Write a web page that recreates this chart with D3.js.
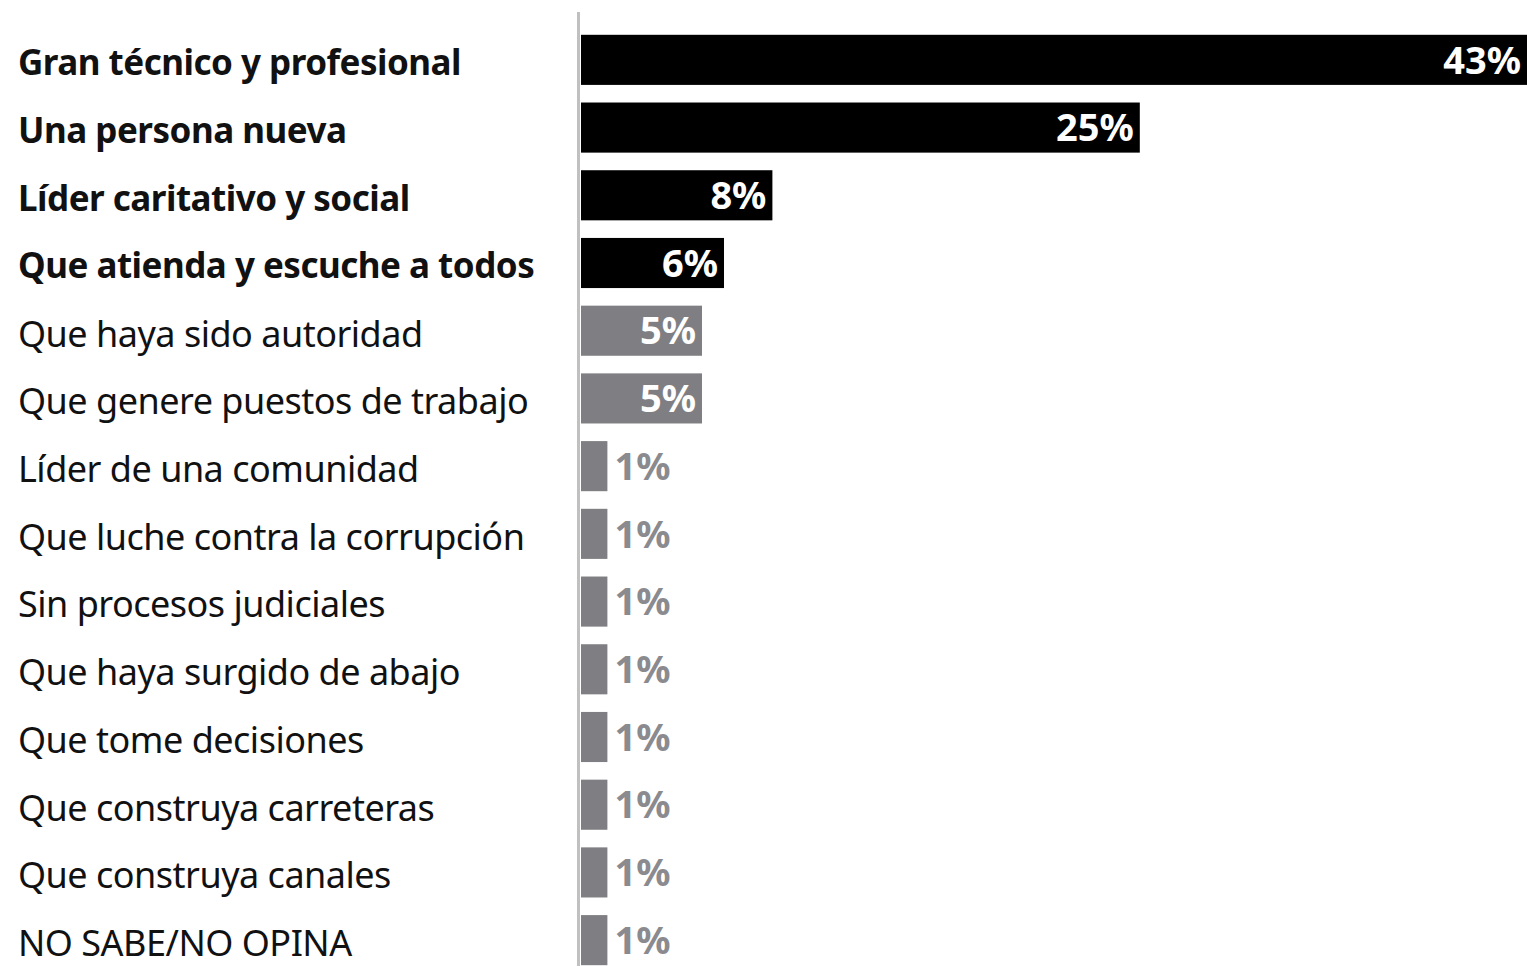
<!DOCTYPE html>
<html>
<head>
<meta charset="utf-8">
<script src="https://cdn.jsdelivr.net/npm/d3@7"></script>
<style>
  body { margin: 0; background: #ffffff; }
  text { font-family: 'Noto Sans', 'Open Sans', sans-serif; }
</style>
</head>
<body>
<script>
const categories = [
  'Gran técnico y profesional',
  'Una persona nueva',
  'Líder caritativo y social',
  'Que atienda y escuche a todos',
  'Que haya sido autoridad',
  'Que genere puestos de trabajo',
  'Líder de una comunidad',
  'Que luche contra la corrupción',
  'Sin procesos judiciales',
  'Que haya surgido de abajo',
  'Que tome decisiones',
  'Que construya carreteras',
  'Que construya canales',
  'NO SABE/NO OPINA'
]
// bar lengths
const values = [43, 25.4, 8.7, 6.5, 5.5, 5.5, 1.2, 1.2, 1.2, 1.2, 1.2, 1.2, 1.2, 1.2]
// printed labels
const valueLabels = ['43%', '25%', '8%', '6%', '5%', '5%', '1%', '1%', '1%', '1%', '1%', '1%', '1%', '1%']
const highlighted = ['Gran técnico y profesional', 'Una persona nueva', 'Líder caritativo y social', 'Que atienda y escuche a todos']

const data = categories.map((c, i) => ({ category: c, value: values[i], label: valueLabels[i] }))

const outerWidth = 1527
const outerHeight = 966

// colors
const black = '#000000'
const barGray = '#7f7f83'
const labelGray = '#8b8b8f'
const axisGray = '#c0c0c0'
const textDark = '#111111'

const svg = d3.select('body')
  .append('svg')
  .attr('width', outerWidth)
  .attr('height', outerHeight)

const xScale = d3.scaleLinear()
  .domain([0, 43])
  .range([581, 1527])

const yScale = d3.scaleBand()
  .domain(categories)
  .range([26, 974])
  .paddingInner(0.26)
  .paddingOuter(0.13)

const isHi = d => highlighted.includes(d.category)

// bars
svg.selectAll('.bar')
  .data(data)
  .enter()
  .append('rect')
  .attr('class', 'bar')
  .attr('x', xScale(0))
  .attr('y', d => yScale(d.category))
  .attr('width', d => xScale(d.value) - xScale(0))
  .attr('height', yScale.bandwidth())
  .style('fill', d => isHi(d) ? black : barGray)

// axis line
svg.append('line')
  .attr('x1', xScale(0) - 2.5)
  .attr('x2', xScale(0) - 2.5)
  .attr('y1', 12)
  .attr('y2', outerHeight)
  .style('stroke', axisGray)
  .style('stroke-width', 3)

// category labels
svg.selectAll('.cat')
  .data(data)
  .enter()
  .append('text')
  .attr('class', 'cat')
  .attr('x', 18)
  .attr('y', d => yScale(d.category) + yScale.bandwidth() / 2)
  .attr('dy', '0.44em')
  .style('font-size', d => isHi(d) ? '35px' : '36px')
  .style('font-weight', d => isHi(d) ? 'bold' : 'normal')
  .style('letter-spacing', '-0.5px')
  .style('fill', textDark)
  .text(d => d.category)

// value labels: inside when the bar is wide enough
const inside = d => xScale(d.value) - xScale(0) > 80
svg.selectAll('.val')
  .data(data)
  .enter()
  .append('text')
  .attr('class', 'val')
  .attr('x', d => inside(d) ? xScale(d.value) - 6 : xScale(d.value) + 7)
  .attr('y', d => yScale(d.category) + yScale.bandwidth() / 2)
  .attr('dy', '0.36em')
  .style('text-anchor', d => inside(d) ? 'end' : 'start')
  .style('font-size', '38px')
  .style('font-weight', 'bold')
  .style('fill', d => inside(d) ? '#ffffff' : labelGray)
  .text(d => d.label)
</script>
</body>
</html>
